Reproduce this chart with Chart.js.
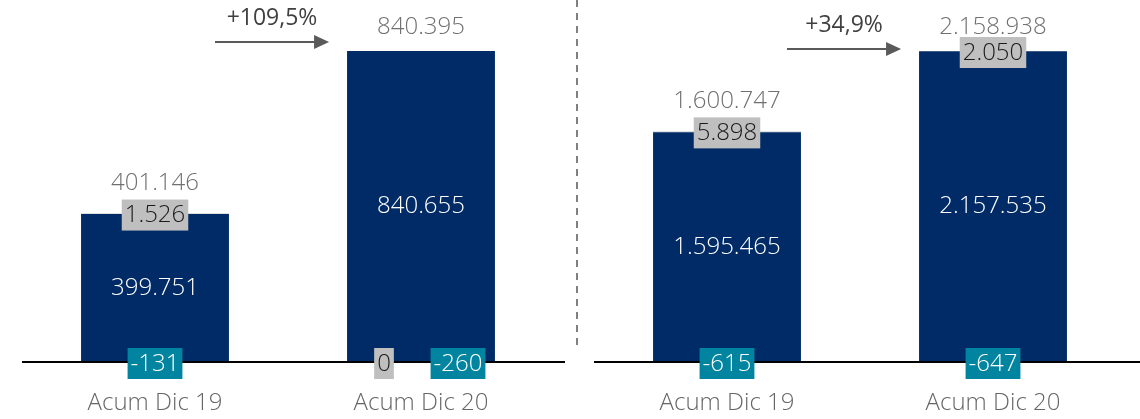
<!DOCTYPE html>
<html>
<head>
<meta charset="utf-8">
<script src="https://cdn.jsdelivr.net/npm/chart.js@4.4.1/dist/chart.umd.min.js"></script>
<style>
  body { margin: 0; background: #fff; }
  .wrap { position: relative; width: 1140px; height: 419px; }
  #chart-left { position: absolute; left: 0; top: 0; }
  #chart-right { position: absolute; left: 578px; top: 0; }
</style>
</head>
<body>
<div class="wrap">
  <canvas id="chart-left" width="578" height="419"></canvas>
  <canvas id="chart-right" width="562" height="419"></canvas>
</div>
<script>
const categories = ["Acum Dic 19", "Acum Dic 20"];

// left panel
const leftMain = [399751, 840655];
const leftGray = [1526, 0];
const leftTeal = [-131, -260];
const leftTotals = [401146, 840395];
const leftGrowth = "+109,5%";

// right panel
const rightMain = [1595465, 2157535];
const rightGray = [5898, 2050];
const rightTeal = [-615, -647];
const rightTotals = [1600747, 2158938];
const rightGrowth = "+34,9%";

const NAVY = '#002B66';
const GRAY = '#BFBFBF';
const TEAL = '#00849F';
const FONT = '"Open Sans", sans-serif';

function fmt(v) {
    const s = Math.abs(v).toString().replace(/\B(?=(\d{3})+(?!\d))/g, '.');
    return (v < 0 ? '-' : '') + s;
}

function box(ctx, text, cx, cy, bg, color) {
    ctx.font = '300 24px ' + FONT;
    const w = ctx.measureText(text).width + 6;
    ctx.fillStyle = bg;
    ctx.fillRect(cx - w / 2, cy - 15, w, 31);
    ctx.fillStyle = color;
    ctx.textAlign = 'center';
    ctx.textBaseline = 'middle';
    ctx.fillText(text, cx, cy + 1);
}

const labelsPlugin = {
    id: 'barLabels',
    afterDatasetsDraw(chart, args, opts) {
        const ctx = chart.ctx;
        const y = chart.scales.y;
        const base = y.getPixelForValue(0);
        const meta = chart.getDatasetMeta(0);
        ctx.save();

        // baseline
        ctx.strokeStyle = '#000';
        ctx.lineWidth = 2;
        ctx.beginPath();
        ctx.moveTo(opts.lineFrom, base);
        ctx.lineTo(opts.lineTo, base);
        ctx.stroke();

        opts.main.forEach((v, i) => {
            const cx = meta.data[i].x;
            const top = y.getPixelForValue(v + opts.gray[i]);
            // main value in the middle
            ctx.font = '300 24px ' + FONT;
            ctx.fillStyle = '#fff';
            ctx.textAlign = 'center';
            ctx.textBaseline = 'middle';
            ctx.fillText(fmt(v), cx, (top + base) / 2);
            // gray and teal boxes
            if (opts.gray[i] === 0) {
                box(ctx, fmt(opts.gray[i]), cx - 37, base + 1, GRAY, '#1a1a1a');
                box(ctx, fmt(opts.teal[i]), cx + 37, base + 1, TEAL, '#fff');
            } else {
                box(ctx, fmt(opts.gray[i]), cx, top + 1, GRAY, '#1a1a1a');
                box(ctx, fmt(opts.teal[i]), cx, base + 1, TEAL, '#fff');
            }
            // total above
            ctx.font = '300 24px ' + FONT;
            ctx.fillStyle = '#707070';
            ctx.textAlign = 'center';
            ctx.textBaseline = 'middle';
            ctx.fillText(fmt(opts.totals[i]), cx, Math.max(top - 30, 27));
        });

        // growth arrow
        const b0 = meta.data[0], b1 = meta.data[1];
        const x0 = b0.x + 60, x1 = b1.x - b1.width / 2 - 18;
        ctx.strokeStyle = '#5a5a5a';
        ctx.fillStyle = '#5a5a5a';
        ctx.lineWidth = 2;
        ctx.beginPath();
        ctx.moveTo(x0, opts.arrowY);
        ctx.lineTo(x1 - 10, opts.arrowY);
        ctx.stroke();
        ctx.beginPath();
        ctx.moveTo(x1, opts.arrowY);
        ctx.lineTo(x1 - 15, opts.arrowY - 7);
        ctx.lineTo(x1 - 15, opts.arrowY + 7);
        ctx.closePath();
        ctx.fill();
        ctx.font = '500 23px ' + FONT;
        ctx.fillStyle = '#404040';
        ctx.textAlign = 'center';
        ctx.textBaseline = 'middle';
        ctx.fillText(opts.growth, (x0 + x1) / 2, opts.arrowY - 24);

        if (opts.separator) {
            ctx.strokeStyle = '#808080';
            ctx.setLineDash([7, 6]);
            ctx.beginPath();
            ctx.moveTo(577, 0);
            ctx.lineTo(577, 350);
            ctx.stroke();
        }
        ctx.restore();
    }
};

function makeChart(el, main, gray, teal, totals, growth, pad, extra) {
    const maxStack = Math.max(...main.map((v, i) => v + gray[i]));
    return new Chart(document.getElementById(el), {
        type: 'bar',
        data: {
            labels: categories,
            datasets: [
                { data: main, backgroundColor: NAVY },
                { data: gray, backgroundColor: GRAY },
                { data: teal, backgroundColor: TEAL }
            ]
        },
        options: {
            responsive: false,
            animation: false,
            layout: { padding: pad },
            datasets: { bar: { categoryPercentage: 1, barPercentage: 0.556 } },
            scales: {
                x: {
                    stacked: true,
                    grid: { display: false },
                    border: { display: false },
                    ticks: { color: '#666', font: { family: FONT, size: 24, weight: '300' }, padding: 19 },
                    afterFit(scale) { scale.height = 57; }
                },
                y: { stacked: true, display: false, min: 0, max: maxStack }
            },
            plugins: {
                legend: { display: false },
                tooltip: { enabled: false },
                barLabels: Object.assign({ main, gray, teal, totals, growth }, extra)
            }
        },
        plugins: [labelsPlugin]
    });
}

makeChart('chart-left', leftMain, leftGray, leftTeal, leftTotals, leftGrowth,
    { left: 22, right: 24, top: 51, bottom: 0 },
    { lineFrom: 22, lineTo: 565, arrowY: 42, separator: true });
makeChart('chart-right', rightMain, rightGray, rightTeal, rightTotals, rightGrowth,
    { left: 16, right: 14, top: 51, bottom: 0 },
    { lineFrom: 16, lineTo: 562, arrowY: 49, separator: false });
</script>
</body>
</html>
